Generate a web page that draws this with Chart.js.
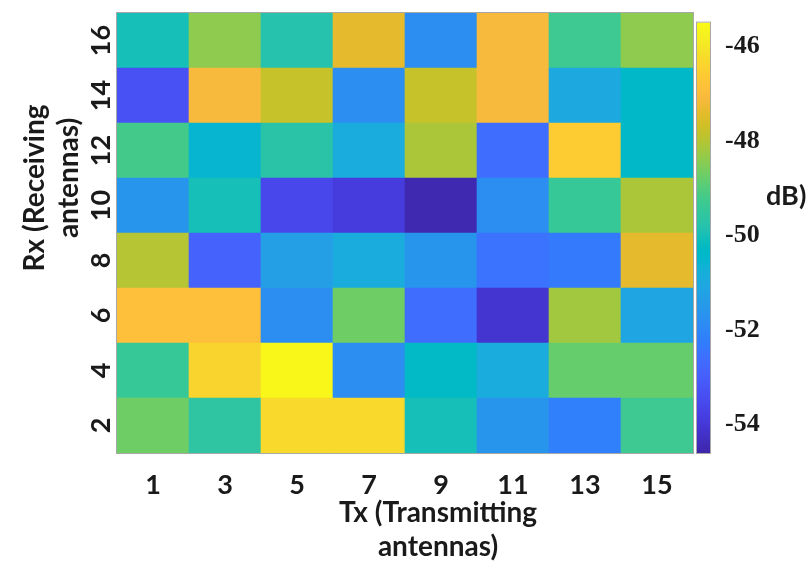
<!DOCTYPE html>
<html>
<head>
<meta charset="utf-8">
<script src="https://cdn.jsdelivr.net/npm/chart.js@4.4.0/dist/chart.umd.min.js"></script>
<style>
  html, body { margin: 0; padding: 0; background: #ffffff; }
  #wrap { position: relative; width: 810px; height: 563px; overflow: hidden; }
  #main { position: absolute; left: 0; top: 0; }
  #cbar { position: absolute; left: 690px; top: 0; }
  #unit { position: absolute; left: 766px; top: 181px; font: bold 27px Lato, sans-serif; line-height: 28px; color: #1a1a1a; }
</style>
</head>
<body>
<div id="wrap">
  <canvas id="main" width="810" height="563"></canvas>
  <canvas id="cbar" width="120" height="563"></canvas>
  <div id="unit">dB)</div>
</div>
<script>
// ---------------- data ----------------
const txLabels = ['1', '3', '5', '7', '9', '11', '13', '15'];
const rxTicks = [2, 4, 6, 8, 10, 12, 14, 16];
const cbTicks = [-54, -52, -50, -48, -46];
const cMin = -54.6;
const cMax = -45.5;
const xTitle = ['Tx (Transmitting', 'antennas)'];
const yTitle = ['Rx (Receiving', 'antennas)'];

// values in dB, one array per Rx row, columns follow txLabels
const rx2  = [-48.7, -49.6, -46.3, -46.3, -50.0, -51.6, -52.2, -49.3];
const rx4  = [-49.4, -46.4, -45.6, -51.8, -50.3, -50.9, -48.8, -48.8];
const rx6  = [-46.9, -46.9, -51.8, -48.7, -52.6, -54.1, -48.2, -51.1];
const rx8  = [-48.0, -52.9, -51.3, -50.9, -51.6, -52.5, -52.3, -47.4];
const rx10 = [-51.6, -50.0, -53.6, -53.9, -54.5, -51.8, -49.4, -48.1];
const rx12 = [-49.2, -50.55, -49.7, -50.9, -48.1, -52.6, -46.6, -50.4];
const rx14 = [-53.3, -47.1, -47.8, -51.8, -47.8, -47.1, -51.0, -50.4];
const rx16 = [-50.0, -48.4, -49.8, -47.4, -51.8, -47.1, -49.3, -48.4];
const rows = [rx2, rx4, rx6, rx8, rx10, rx12, rx14, rx16];

// ---------------- parula colormap ----------------
const PARULA = [
[0.2422,0.1504,0.6603],[0.2504,0.1650,0.7076],[0.2578,0.1818,0.7511],[0.2647,0.1978,0.7952],
[0.2706,0.2147,0.8364],[0.2751,0.2342,0.8710],[0.2783,0.2559,0.8991],[0.2803,0.2782,0.9221],
[0.2813,0.3006,0.9414],[0.2810,0.3228,0.9579],[0.2795,0.3447,0.9717],[0.2760,0.3667,0.9829],
[0.2699,0.3892,0.9906],[0.2602,0.4123,0.9952],[0.2440,0.4358,0.9988],[0.2206,0.4603,0.9973],
[0.1963,0.4847,0.9892],[0.1834,0.5074,0.9798],[0.1786,0.5289,0.9682],[0.1764,0.5499,0.9520],
[0.1687,0.5703,0.9359],[0.1540,0.5902,0.9218],[0.1460,0.6091,0.9079],[0.1380,0.6276,0.8973],
[0.1248,0.6459,0.8883],[0.1113,0.6635,0.8763],[0.0952,0.6798,0.8598],[0.0689,0.6948,0.8394],
[0.0297,0.7082,0.8163],[0.0036,0.7203,0.7917],[0.0067,0.7312,0.7660],[0.0433,0.7411,0.7394],
[0.0964,0.7500,0.7120],[0.1408,0.7584,0.6842],[0.1717,0.7670,0.6554],[0.1938,0.7758,0.6251],
[0.2161,0.7843,0.5923],[0.2470,0.7918,0.5567],[0.2906,0.7973,0.5188],[0.3406,0.8008,0.4789],
[0.3909,0.8029,0.4354],[0.4456,0.8024,0.3909],[0.5044,0.7993,0.3480],[0.5616,0.7942,0.3045],
[0.6174,0.7876,0.2612],[0.6720,0.7793,0.2227],[0.7242,0.7698,0.1910],[0.7738,0.7598,0.1646],
[0.8203,0.7498,0.1535],[0.8634,0.7406,0.1596],[0.9035,0.7330,0.1774],[0.9393,0.7288,0.2100],
[0.9728,0.7298,0.2394],[0.9956,0.7434,0.2371],[0.9970,0.7659,0.2199],[0.9952,0.7893,0.2028],
[0.9892,0.8136,0.1885],[0.9786,0.8386,0.1766],[0.9676,0.8639,0.1643],[0.9610,0.8890,0.1537],
[0.9597,0.9135,0.1423],[0.9628,0.9373,0.1265],[0.9691,0.9606,0.1064],[0.9769,0.9839,0.0805]];

function parula(t) {
  t = Math.max(0, Math.min(1, t));
  const f = t * (PARULA.length - 1);
  const i = Math.min(PARULA.length - 2, Math.floor(f));
  const u = f - i;
  const a = PARULA[i], b = PARULA[i + 1];
  const c = a.map((v, k) => Math.round(255 * (v + (b[k] - v) * u)));
  return 'rgb(' + c[0] + ',' + c[1] + ',' + c[2] + ')';
}
function colorFor(v) { return parula((v - cMin) / (cMax - cMin)); }

// ---------------- plugins ----------------
const FONT_SANS = 'Lato, "Open Sans", sans-serif';
const TEXT_COLOR = '#1a1a1a';

const boxPlugin = {
  id: 'box',
  afterDatasetsDraw(chart) {
    const a = chart.chartArea;
    const c = chart.ctx;
    c.save();
    c.strokeStyle = '#a8a8a8';
    c.lineWidth = 1;
    c.strokeRect(a.left - 0.5, a.top - 0.5, a.right - a.left + 1, a.bottom - a.top + 1);
    c.restore();
  }
};

// y tick labels rotated like the original (reading bottom to top)
const rotatedYTicks = {
  id: 'rotatedYTicks',
  afterDraw(chart) {
    const y = chart.scales.y;
    const c = chart.ctx;
    c.save();
    c.fillStyle = TEXT_COLOR;
    c.font = 'bold 27px ' + FONT_SANS;
    c.textAlign = 'center';
    c.textBaseline = 'middle';
    y.ticks.forEach(t => {
      const py = y.getPixelForValue(t.value);
      c.save();
      c.translate(y.right - 16, py);
      c.rotate(-Math.PI / 2);
      c.fillText(String(t.value), 0, 0);
      c.restore();
    });
    c.restore();
  }
};

// axis titles, placed like the original figure (slightly off-centre)
const axisTitles = {
  id: 'axisTitles',
  afterDraw(chart) {
    const a = chart.chartArea;
    const c = chart.ctx;
    const lh = 34;
    c.save();
    c.fillStyle = TEXT_COLOR;
    c.font = 'bold 28px ' + FONT_SANS;
    c.textAlign = 'center';
    c.textBaseline = 'middle';
    const cx = (a.left + a.right) / 2 + 33;
    xTitle.forEach((line, i) => c.fillText(line, cx, a.bottom + 60 + i * lh));
    const cy = [a.top + 175, a.top + 165];
    yTitle.forEach((line, i) => {
      c.save();
      c.translate(35 + i * lh, cy[i]);
      c.rotate(-Math.PI / 2);
      c.fillText(line, 0, 0);
      c.restore();
    });
    c.restore();
  }
};

// ---------------- main heatmap ----------------
const datasets = rows.map((vals, i) => ({
  label: 'Rx ' + rxTicks[i],
  data: vals.map(() => [rxTicks[i] - 1, rxTicks[i] + 1]),
  backgroundColor: vals.map(colorFor),
  borderWidth: 0,
  barPercentage: 1.0,
  categoryPercentage: 1.0,
  grouped: false
}));

new Chart(document.getElementById('main'), {
  type: 'bar',
  data: { labels: txLabels, datasets },
  options: {
    responsive: false,
    animation: false,
    layout: { padding: { left: 0, right: 117, top: 13, bottom: 0 } },
    plugins: { legend: { display: false }, tooltip: { enabled: false } },
    scales: {
      x: {
        type: 'category',
        grid: { display: false },
        border: { display: false },
        ticks: { color: TEXT_COLOR, font: { family: FONT_SANS, size: 27, weight: 'bold' }, padding: 8, maxRotation: 0 },
        title: { display: false, text: xTitle },
        afterFit(scale) { scale.height = 110; }
      },
      y: {
        type: 'linear',
        min: 1,
        max: 17,
        grid: { display: false },
        border: { display: false },
        ticks: { display: false },
        afterBuildTicks(scale) { scale.ticks = rxTicks.map(v => ({ value: v })); },
        title: { display: false, text: yTitle },
        afterFit(scale) { scale.width = 117; }
      }
    }
  },
  plugins: [boxPlugin, rotatedYTicks, axisTitles]
});

// ---------------- colorbar ----------------
new Chart(document.getElementById('cbar'), {
  type: 'bar',
  data: {
    labels: ['dB'],
    datasets: [{
      label: 'colorbar',
      data: [[cMin, cMax]],
      borderWidth: 0,
      barPercentage: 1.0,
      categoryPercentage: 1.0,
      backgroundColor(ctx) {
        const chart = ctx.chart;
        const ys = chart.scales.y;
        if (!ys || !chart.chartArea) return parula(0.5);
        const g = chart.ctx.createLinearGradient(0, ys.getPixelForValue(cMin), 0, ys.getPixelForValue(cMax));
        for (let i = 0; i < PARULA.length; i++) {
          const t = i / (PARULA.length - 1);
          g.addColorStop(t, parula(t));
        }
        return g;
      }
    }]
  },
  options: {
    responsive: false,
    animation: false,
    layout: { padding: { left: 7, right: 0, top: 13, bottom: 110 } },
    plugins: { legend: { display: false }, tooltip: { enabled: false } },
    scales: {
      x: { display: false },
      y: {
        type: 'linear',
        position: 'right',
        min: cMin,
        max: cMax,
        grid: { display: false },
        border: { display: false },
        afterBuildTicks(scale) { scale.ticks = cbTicks.map(v => ({ value: v })); },
        ticks: { color: TEXT_COLOR, font: { family: '"Liberation Serif", "Times New Roman", serif', size: 26, weight: 'bold' }, padding: 7 },
        afterFit(scale) { scale.width = 100; }
      }
    }
  },
  plugins: [boxPlugin]
});
</script>
</body>
</html>
